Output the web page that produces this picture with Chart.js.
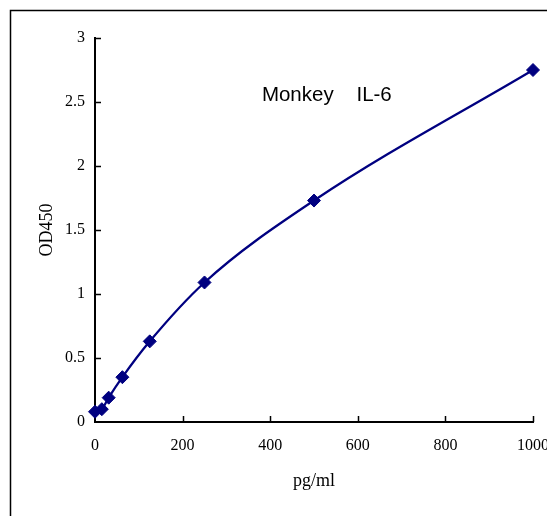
<!DOCTYPE html>
<html>
<head>
<meta charset="utf-8">
<script src="https://cdn.jsdelivr.net/npm/chart.js@4"></script>
<style>
  html, body { margin: 0; padding: 0; background: #fff; }
  #wrap { position: relative; width: 547px; height: 516px; }
</style>
</head>
<body>
<div id="wrap"><canvas id="c" width="547" height="516"></canvas></div>
<script>
const concentrations = [0, 15.6, 31.25, 62.5, 125, 250, 500, 1000];
const od450 = [0.08, 0.10, 0.19, 0.35, 0.63, 1.09, 1.73, 2.75];
const xTicks = [0, 200, 400, 600, 800, 1000];
const yTicks = [0, 0.5, 1, 1.5, 2, 2.5, 3];
const chartLabel = 'Monkey    IL-6';
const xTitle = 'pg/ml';
const yTitle = 'OD450';

const serif = '"Liberation Serif", "DejaVu Serif", serif';

const framePlugin = {
  id: 'frame',
  beforeDraw(chart) {
    const ctx = chart.ctx;
    ctx.save();
    ctx.fillStyle = '#fff';
    ctx.fillRect(0, 0, chart.width, chart.height);
    ctx.strokeStyle = '#000';
    ctx.lineWidth = 1.5;
    ctx.beginPath();
    ctx.moveTo(10.5, chart.height);
    ctx.lineTo(10.5, 10.5);
    ctx.lineTo(chart.width, 10.5);
    ctx.stroke();
    ctx.restore();
  },
  afterDraw(chart) {
    const ctx = chart.ctx;
    const xs = chart.scales.x, ys = chart.scales.y;
    ctx.save();
    ctx.strokeStyle = '#000';
    ctx.lineWidth = 1.5;
    ctx.beginPath();
    xTicks.forEach(v => {
      if (v === 0) return;
      const px = Math.round(xs.getPixelForValue(v)) + 0.5;
      ctx.moveTo(px, ys.bottom);
      ctx.lineTo(px, ys.bottom - 6);
    });
    yTicks.forEach(v => {
      if (v === 0) return;
      const py = Math.round(ys.getPixelForValue(v)) + 0.5;
      ctx.moveTo(xs.left, py);
      ctx.lineTo(xs.left + 6, py);
    });
    ctx.stroke();
    ctx.fillStyle = '#000';
    ctx.font = '20.5px "Liberation Sans", Arial, sans-serif';
    ctx.textBaseline = 'middle';
    ctx.textAlign = 'left';
    ctx.fillText(chartLabel, xs.getPixelForValue(381), ys.getPixelForValue(2.55));
    ctx.restore();
  }
};

new Chart(document.getElementById('c'), {
  type: 'line',
  data: {
    datasets: [{
      data: concentrations.map((x, i) => ({ x: x, y: od450[i] })),
      borderColor: '#000080',
      backgroundColor: '#000080',
      borderWidth: 2.3,
      pointStyle: 'rectRot',
      pointRadius: 6.5,
      pointHoverRadius: 6.5,
      pointBorderWidth: 1,
      cubicInterpolationMode: 'monotone',
      fill: false,
      clip: false
    }]
  },
  options: {
    responsive: false,
    animation: false,
    devicePixelRatio: 1,
    layout: { padding: { left: 10, right: 14, top: 38, bottom: 0 } },
    plugins: { legend: { display: false }, tooltip: { enabled: false } },
    scales: {
      x: {
        type: 'linear',
        min: 0, max: 1000,
        afterBuildTicks(scale) { scale.ticks = xTicks.map(v => ({ value: v })); },
        afterFit(scale) { scale.height = 94; scale.paddingLeft = 0; scale.paddingRight = 0; },
        grid: { display: false, drawTicks: false },
        border: { display: true, color: '#000', width: 2 },
        ticks: { color: '#000', padding: 14, maxRotation: 0, autoSkip: false,
                 callback: v => String(v), font: { family: serif, size: 16 } },
        title: { display: true, text: xTitle, color: '#000', padding: { top: 0, bottom: 24 }, font: { family: serif, size: 18 } }
      },
      y: {
        type: 'linear',
        min: 0, max: 3,
        afterBuildTicks(scale) { scale.ticks = yTicks.map(v => ({ value: v })); },
        afterFit(scale) { scale.width = 85; scale.paddingTop = 0; scale.paddingBottom = 0; },
        grid: { display: false, drawTicks: false },
        border: { display: true, color: '#000', width: 2 },
        ticks: { color: '#000', padding: 10, autoSkip: false,
                 callback: v => String(v), font: { family: serif, size: 16 } },
        title: { display: true, text: yTitle, color: '#000', padding: { top: 26, bottom: 0 }, font: { family: serif, size: 18 } }
      }
    }
  },
  plugins: [framePlugin]
});
</script>
</body>
</html>
